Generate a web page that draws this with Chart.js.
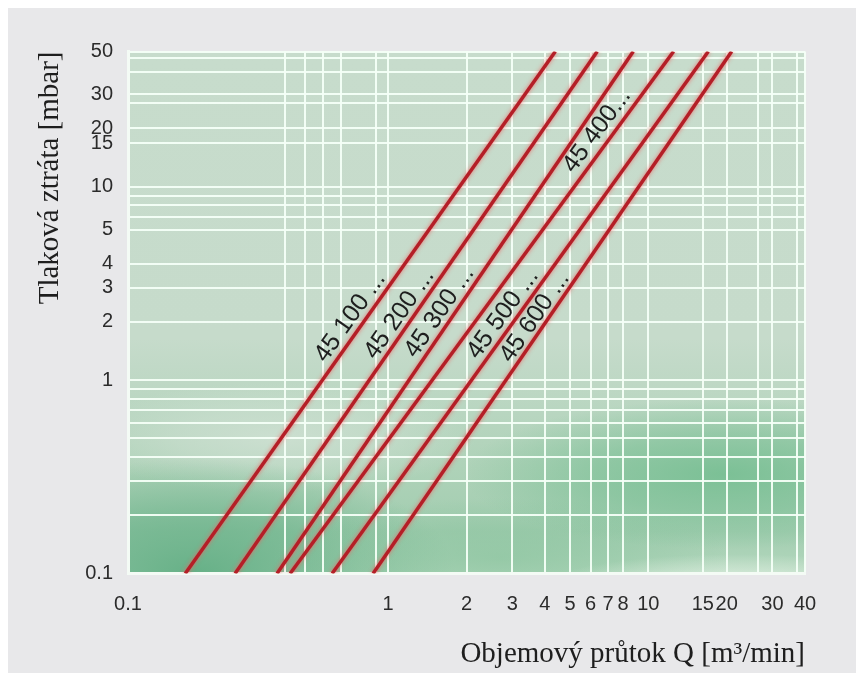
<!DOCTYPE html>
<html><head><meta charset="utf-8">
<script src="https://cdn.jsdelivr.net/npm/chart.js@4/dist/chart.umd.min.js"></script>
<style>html,body{margin:0;padding:0;background:#fff;overflow:hidden}#wrap{width:856px;height:673px}</style>
</head><body><div id="wrap"><canvas id="c" width="856" height="673"></canvas></div>
<script>
// Series: straight lines (log-log) from 0.1 mbar to 50 mbar
const seriesNames = ['45 100 ...', '45 200 ...', '45 300 ...', '45 400...', '45 500 ...', '45 600 ...'];
const pressureEnds = [0.1, 50];                       // mbar
const flowAtLow  = [0.166, 0.258, 0.374, 0.420, 0.609, 0.875];   // m3/min at 0.1 mbar
const flowAtHigh = [4.39, 6.36, 8.75, 12.5, 17.0, 20.9];         // m3/min at 50 mbar
// where each series name is written (data units)
const labelQ = [0.715, 1.105, 1.575, 6.35, 2.76, 3.66];
const labelP = [2.12, 2.2, 2.25, 19.5, 2.2, 2.12];

// Axis grid lines and tick labels as drawn in the diagram
const xGrid = [0.1, 0.4, 0.48, 0.56, 0.66, 0.9, 1, 2, 3, 4, 5, 6, 7, 8, 10, 16.2, 20, 26.4, 30, 37.3, 40];
const xLabelVals = [0.1, 1, 2, 3, 4, 5, 6, 7, 8, 10, 16.2, 20, 30, 40];
const xLabelText = ['0.1', '1', '2', '3', '4', '5', '6', '7', '8', '10', '15', '20', '30', '40'];
const yGrid = [0.1, 0.2, 0.3, 0.4, 0.5, 0.6, 0.7, 0.8, 0.9, 1, 2, 3, 4, 6, 7, 8, 9, 10, 16.8, 20, 27.1, 30, 39.2, 46.3, 50];
const yLabelVals = [0.1, 1, 2, 3, 4, 6, 10, 16.8, 20, 30, 50];
const yLabelText = ['0.1', '1', '2', '3', '4', '5', '10', '15', '20', '30', '50'];

const SANS = "'Liberation Sans', Arial, sans-serif";
const SERIF = "'Liberation Serif', 'Times New Roman', serif";
const GRID = 'rgba(244,255,247,0.95)';

function blob(ctx, cx, cy, rx, ry, rgb, a0) {
  ctx.save();
  ctx.translate(cx, cy);
  ctx.scale(1, ry / rx);
  const g = ctx.createRadialGradient(0, 0, 0, 0, 0, rx);
  g.addColorStop(0, 'rgba(' + rgb + ',' + a0 + ')');
  g.addColorStop(0.5, 'rgba(' + rgb + ',' + (a0 * 0.6) + ')');
  g.addColorStop(1, 'rgba(' + rgb + ',0)');
  ctx.fillStyle = g;
  ctx.fillRect(-rx, -rx, rx * 2, rx * 2);
  ctx.restore();
}

const bgPlugin = {
  id: 'bg',
  beforeDraw(chart) {
    const { ctx, chartArea: a, width, height } = chart;
    ctx.save();
    ctx.fillStyle = '#ffffff';
    ctx.fillRect(0, 0, width, height);
    ctx.fillStyle = '#e8e8ea';
    ctx.fillRect(8, 8, width - 8, height - 8);
    ctx.beginPath();
    ctx.rect(a.left, a.top, a.right - a.left, a.bottom - a.top);
    ctx.clip();
    const w = a.right - a.left, h = a.bottom - a.top;
    const lg = ctx.createLinearGradient(0, a.top, 0, a.bottom);
    lg.addColorStop(0, '#c7dccc');
    lg.addColorStop(0.55, '#c6dbcb');
    lg.addColorStop(0.8, '#aed2b8');
    lg.addColorStop(0.92, '#a2cdb0');
    lg.addColorStop(1, '#b4d8be');
    ctx.fillStyle = lg;
    ctx.fillRect(a.left, a.top, w, h);
    blob(ctx, a.left + w * 0.22, a.top + h * 0.74, 200, 55, '206,224,210', 0.9);
    blob(ctx, a.left + w * 0.10, a.top + h * 1.0, 260, 115, '98,174,132', 0.95);
    blob(ctx, a.left + w * 0.55, a.top + h * 0.97, 230, 60, '130,192,152', 0.55);
    blob(ctx, a.left + w * 0.88, a.top + h * 0.81, 260, 75, '118,190,146', 0.9);
    blob(ctx, a.left + w * 0.90, a.top + h * 1.03, 200, 35, '222,238,224', 0.95);
    ctx.restore();
  }
};

const glowPlugin = {
  id: 'glow',
  beforeDatasetsDraw(chart) {
    const ctx = chart.ctx;
    ctx.save();
    ctx.shadowColor = 'rgba(240,95,95,0.85)';
    ctx.shadowBlur = 4;
  },
  afterDatasetsDraw(chart) {
    const ctx = chart.ctx;
    ctx.restore();
    const xs = chart.scales.x, ys = chart.scales.y;
    ctx.save();
    ctx.fillStyle = '#1e1e1e';
    ctx.font = '25px ' + SANS;
    ctx.textAlign = 'center';
    ctx.textBaseline = 'middle';
    chart.data.datasets.forEach((ds, i) => {
      const pts = chart.getDatasetMeta(i).data;
      const ang = Math.atan2(pts[1].y - pts[0].y, pts[1].x - pts[0].x);
      ctx.save();
      ctx.translate(xs.getPixelForValue(labelQ[i]), ys.getPixelForValue(labelP[i]));
      ctx.rotate(ang);
      ctx.fillText(seriesNames[i], 0, 0);
      ctx.restore();
    });
    ctx.restore();
  }
};

const datasets = seriesNames.map((name, i) => ({
  label: name,
  data: [{ x: flowAtLow[i], y: pressureEnds[0] }, { x: flowAtHigh[i], y: pressureEnds[1] }],
  borderColor: '#b41f27',
  borderWidth: 3.5,
  pointRadius: 0,
  fill: false,
  tension: 0
}));

new Chart(document.getElementById('c'), {
  type: 'line',
  data: { datasets },
  plugins: [bgPlugin, glowPlugin],
  options: {
    responsive: false,
    animation: false,
    layout: { padding: { left: 33, right: 51, top: 51.5, bottom: 1.5 } },
    plugins: { legend: { display: false }, tooltip: { enabled: false } },
    scales: {
      x: {
        type: 'logarithmic', min: 0.1, max: 40,
        afterBuildTicks: s => { s.ticks = xGrid.map(v => ({ value: v })); },
        afterFit: s => { s.height = 98; },
        grid: { color: GRID, lineWidth: 2, drawTicks: false },
        border: { color: '#f4fbf5', width: 3 },
        ticks: {
          autoSkip: false, maxRotation: 0, padding: 19, color: '#2b2b2b',
          font: { family: SANS, size: 20 },
          callback: v => { const k = xLabelVals.indexOf(v); return k >= 0 ? xLabelText[k] : ''; }
        },
        title: {
          display: true, text: 'Objemový průtok Q [m³/min]', align: 'end', color: '#1e1e1e',
          font: { family: SERIF, size: 29, lineHeight: 1.2 }, padding: { top: 0, bottom: 0 }
        }
      },
      y: {
        type: 'logarithmic', min: 0.1, max: 50,
        afterBuildTicks: s => { s.ticks = yGrid.map(v => ({ value: v })); },
        afterFit: s => { s.width = 95; },
        grid: { color: GRID, lineWidth: 2, drawTicks: false },
        border: { color: '#f4fbf5', width: 3 },
        ticks: {
          autoSkip: false, padding: 15, color: '#2b2b2b',
          font: { family: SANS, size: 20 },
          callback: v => { const k = yLabelVals.indexOf(v); return k >= 0 ? yLabelText[k] : ''; }
        },
        title: {
          display: true, text: 'Tlaková ztráta [mbar]', align: 'end', color: '#1e1e1e',
          font: { family: SERIF, size: 29, lineHeight: 1.2 }, padding: { top: 0, bottom: 0 }
        }
      }
    }
  }
});
</script>
</body></html>
